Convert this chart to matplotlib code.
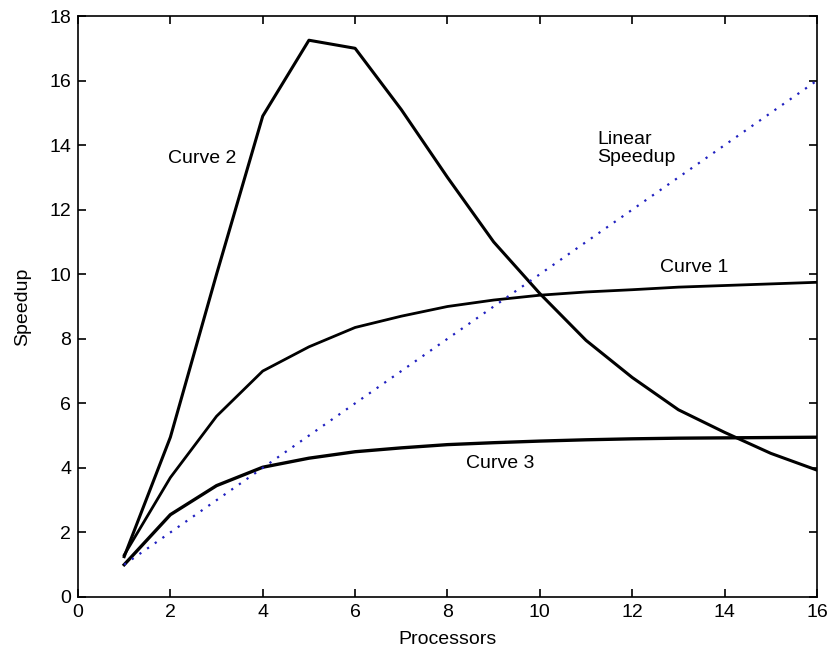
import matplotlib
matplotlib.use("Agg")
import matplotlib.pyplot as plt

processors = list(range(1, 17))
curve1 = [1.3, 3.7, 5.6, 7.0, 7.75, 8.35, 8.7, 9.0, 9.2, 9.35, 9.45, 9.52, 9.6, 9.65, 9.7, 9.75]
curve2 = [1.25, 4.95, 10.0, 14.9, 17.25, 17.0, 15.1, 13.0, 11.0, 9.4, 7.95, 6.8, 5.8, 5.1, 4.45, 3.93]
curve3 = [1.0, 2.55, 3.45, 4.02, 4.3, 4.5, 4.62, 4.72, 4.78, 4.83, 4.87, 4.9, 4.92, 4.93, 4.94, 4.95]
linear = processors

plt.rcParams['font.family'] = ['Liberation Sans', 'DejaVu Sans']

fig = plt.figure(figsize=(8.28, 6.54), dpi=100)
ax = fig.add_axes([0.0942, 0.0872, 0.8925, 0.8883])

ax.plot(processors, curve1, color='black', lw=2.0)
ax.plot(processors, curve2, color='black', lw=2.2)
ax.plot(processors, curve3, color='black', lw=2.4)
ax.plot(processors, linear, color='#2020c0', lw=1.6, ls=(0, (1, 3.2)))

ax.text(1.95, 13.6, 'Curve 2', fontsize=14, va='center')
ax.text(11.25, 13.9, 'Linear\nSpeedup', fontsize=14, va='center', linespacing=1.1)
ax.text(12.6, 10.2, 'Curve 1', fontsize=14, va='center')
ax.text(8.4, 4.15, 'Curve 3', fontsize=14, va='center')

ax.set_xlim(0, 16)
ax.set_ylim(0, 18)
ax.set_xticks(range(0, 17, 2))
ax.set_yticks(range(0, 19, 2))
ax.tick_params(direction='in', top=True, right=True, length=6, width=1.2,
               labelsize=14, pad=5)
for s in ax.spines.values():
    s.set_linewidth(1.2)
ax.set_xlabel('Processors', fontsize=14, labelpad=7)
ax.set_ylabel('Speedup', fontsize=14, labelpad=13)

fig.savefig('out.png', dpi=100)
